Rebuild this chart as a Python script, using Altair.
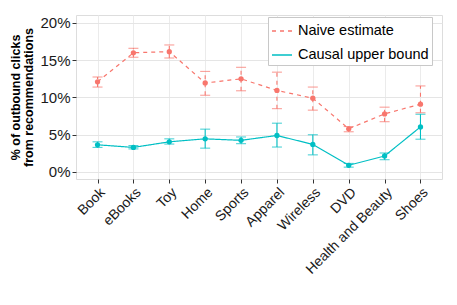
import altair as alt
import pandas as pd

categories = ["Book", "eBooks", "Toy", "Home", "Sports", "Apparel", "Wireless", "DVD", "Health and Beauty", "Shoes"]
series_names = ["Naive estimate", "Causal upper bound"]

naive = [12.1, 16.0, 16.15, 11.95, 12.5, 10.95, 9.9, 5.8, 7.8, 9.1]
naive_lo = [11.4, 15.4, 15.3, 10.3, 10.9, 8.5, 8.3, 5.4, 6.75, 7.95]
naive_hi = [12.75, 16.6, 17.05, 13.5, 14.05, 13.4, 11.4, 6.1, 8.7, 11.55]

causal = [3.65, 3.3, 4.05, 4.45, 4.25, 4.9, 3.7, 0.9, 2.15, 6.05]
causal_lo = [3.3, 3.1, 3.75, 3.2, 3.8, 3.35, 2.3, 0.65, 1.65, 4.4]
causal_hi = [4.05, 3.55, 4.45, 5.75, 4.7, 6.55, 5.0, 1.15, 2.55, 7.75]

y_ticks = [0, 2.5, 5, 7.5, 10, 12.5, 15, 17.5, 20]

rows = []
for name, v, lo, hi in [(series_names[0], naive, naive_lo, naive_hi),
                        (series_names[1], causal, causal_lo, causal_hi)]:
    for c, a, b, d in zip(categories, v, lo, hi):
        rows.append({"category": c, "series": name, "value": a, "lo": b, "hi": d})
df = pd.DataFrame(rows)

colors = ["#F8766D", "#00BFC4"]
dashes = [[4, 4], [1, 0]]

is_major = "datum.value % 5 === 0"

xenc = alt.X("category:N", sort=categories,
             scale=alt.Scale(type="point", padding=0.6),
             axis=alt.Axis(title=None, labelAngle=-45, labelAlign="right", labelBaseline="top",
                           labelFontSize=14, labelColor="#1a1a1a", labelFont="Liberation Sans",
                           tickColor="#333333", tickSize=4, domain=False, labelPadding=2,
                           grid=True, gridColor="#ebebeb", labelOverlap=False))
yscale = alt.Scale(domain=[-0.94, 21.07], nice=False, zero=False)
ymajor = alt.Y("value:Q", scale=yscale,
               axis=alt.Axis(values=y_ticks,
                             labelExpr="datum.value % 5 === 0 ? datum.value + '%' : ''",
                             title=["% of outbound clicks", "from recommendations"],
                             titleFontWeight="bold", titleFontSize=12.5, titleFont="Liberation Sans",
                             titleLineHeight=13, titlePadding=4, titleColor="#000000",
                             labelFontSize=15, labelFont="Liberation Sans", labelColor="#1a1a1a",
                             tickColor="#333333", tickSize=4, domain=False,
                             tickOpacity={"condition": {"test": is_major, "value": 1}, "value": 0},
                             grid=True,
                             gridColor={"condition": {"test": is_major, "value": "#e5e5e5"}, "value": "#f4f4f4"},
                             labelPadding=2))
color = alt.Color("series:N", sort=series_names,
                  scale=alt.Scale(domain=series_names, range=colors),
                  legend=alt.Legend(title=None, orient="none", legendX=192, legendY=2,
                                    symbolType="stroke", symbolSize=400, symbolStrokeWidth=1.3,
                                    labelFontSize=14.5, labelFont="Liberation Sans", labelColor="#000000",
                                    strokeColor="#c8c8c8", fillColor="#ffffff", padding=3,
                                    rowPadding=6, labelOffset=5, symbolOffset=0))
dash = alt.StrokeDash("series:N", sort=series_names,
                      scale=alt.Scale(domain=series_names, range=dashes), legend=None)

base = alt.Chart(df)
nolegend = alt.Color("series:N", sort=series_names, legend=None)
xs = alt.X("category:N", sort=categories)

lines = base.mark_line(strokeWidth=1.2).encode(x=xenc, y=ymajor, color=color, strokeDash=dash)
points = base.mark_point(filled=True, size=28, opacity=1).encode(x=xs, y="value:Q", color=nolegend)
bars = base.mark_rule(strokeWidth=1.1).encode(x=xs, y="lo:Q", y2="hi:Q", color=nolegend, strokeDash=dash)
caps_lo = base.mark_tick(size=10, thickness=1.1, orient="horizontal").encode(x=xs, y="lo:Q", color=nolegend)
caps_hi = base.mark_tick(size=10, thickness=1.1, orient="horizontal").encode(x=xs, y="hi:Q", color=nolegend)

chart = alt.layer(lines, bars, caps_lo, caps_hi, points).properties(
    width=366, height=164,
    autosize=alt.AutoSizeParams(type="none"),
    padding={"left": 68, "top": 7, "right": 7, "bottom": 110},
).configure_view(stroke="#7f7f7f", strokeWidth=1).configure(background="#ffffff")

chart.save("out.html", embed_options={"renderer": "svg", "actions": False})
